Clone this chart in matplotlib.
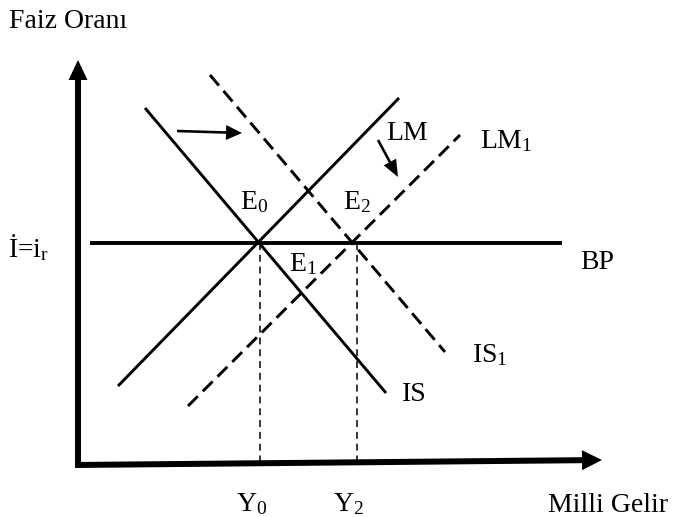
import matplotlib
matplotlib.use("Agg")
import matplotlib.pyplot as plt

# -----------------------------
# Diagram data (pixel space of the 673x517 picture, y grows downward)
# -----------------------------
is_line = [(145, 108), (386, 393)]
lm_line = [(118, 386), (399, 98)]
is1_line = [(210, 75), (445, 352)]
lm1_line = [(188, 406), (460, 135)]
bp_line = [(90, 243), (562, 243)]
y0_drop = [(260, 243), (260, 462)]
y2_drop = [(357, 243), (357, 462)]

# shift arrows: start point and end point
is_shift = [(177, 131), (242, 133)]
lm_shift = [(378, 140), (398, 177)]

# axes arrows
y_axis = [(78, 467), (78, 60)]
x_axis = [(75, 465), (602, 460)]

# labels: text, x (left), y (baseline)
labels = [
    ("Faiz Oranı", 9, 28),
    ("İ=i$_\\mathrm{r}$", 8, 257),
    ("E$_0$", 240, 209),
    ("E$_2$", 343, 209),
    ("E$_1$", 289, 271),
    ("LM", 386, 140),
    ("LM$_1$", 480, 148),
    ("BP", 580, 269),
    ("IS$_1$", 472, 362),
    ("IS", 402, 401),
    ("Y$_0$", 236, 511),
    ("Y$_2$", 333, 511),
    ("Milli Gelir", 548, 512),
]

# -----------------------------
# Style
# -----------------------------
plt.rcParams["font.family"] = ["Liberation Serif", "DejaVu Serif"]
plt.rcParams["mathtext.fontset"] = "custom"
plt.rcParams["mathtext.rm"] = "Liberation Serif"
plt.rcParams["mathtext.it"] = "Liberation Serif:italic"
plt.rcParams["lines.scale_dashes"] = False

fig = plt.figure(figsize=(6.73, 5.17), dpi=100)
ax = fig.add_axes([0, 0, 1, 1])
ax.set_xlim(0, 673)
ax.set_ylim(517, 0)
ax.axis("off")


def seg(pts, **kw):
    xs = [p[0] for p in pts]
    ys = [p[1] for p in pts]
    ax.plot(xs, ys, color="black", solid_capstyle="butt", **kw)


# -----------------------------
# Curves
# -----------------------------
seg(is_line, lw=2.1)
seg(lm_line, lw=2.1)
seg(bp_line, lw=2.8)
seg(is1_line, lw=2.1, linestyle=(0, (10, 5)))
seg(lm1_line, lw=2.1, linestyle=(0, (10, 5)))
seg(y0_drop, lw=1.1, linestyle=(0, (5, 3.5)))
seg(y2_drop, lw=1.1, linestyle=(0, (5, 3.5)))


def arrow(pts, width, hw, hl):
    (x0, y0), (x1, y1) = pts
    ax.arrow(x0, y0, x1 - x0, y1 - y0, width=width, head_width=hw,
             head_length=hl, length_includes_head=True,
             color="black", lw=0)


arrow(y_axis, 6, 19, 20)
arrow(x_axis, 6, 20, 20)
arrow(is_shift, 2.6, 15, 16)
arrow(lm_shift, 2.6, 14, 17)

# -----------------------------
# Text
# -----------------------------
for txt, x, y in labels:
    ax.text(x, y, txt, fontsize=20, ha="left", va="baseline", color="black")

fig.savefig("out.png", dpi=100)
